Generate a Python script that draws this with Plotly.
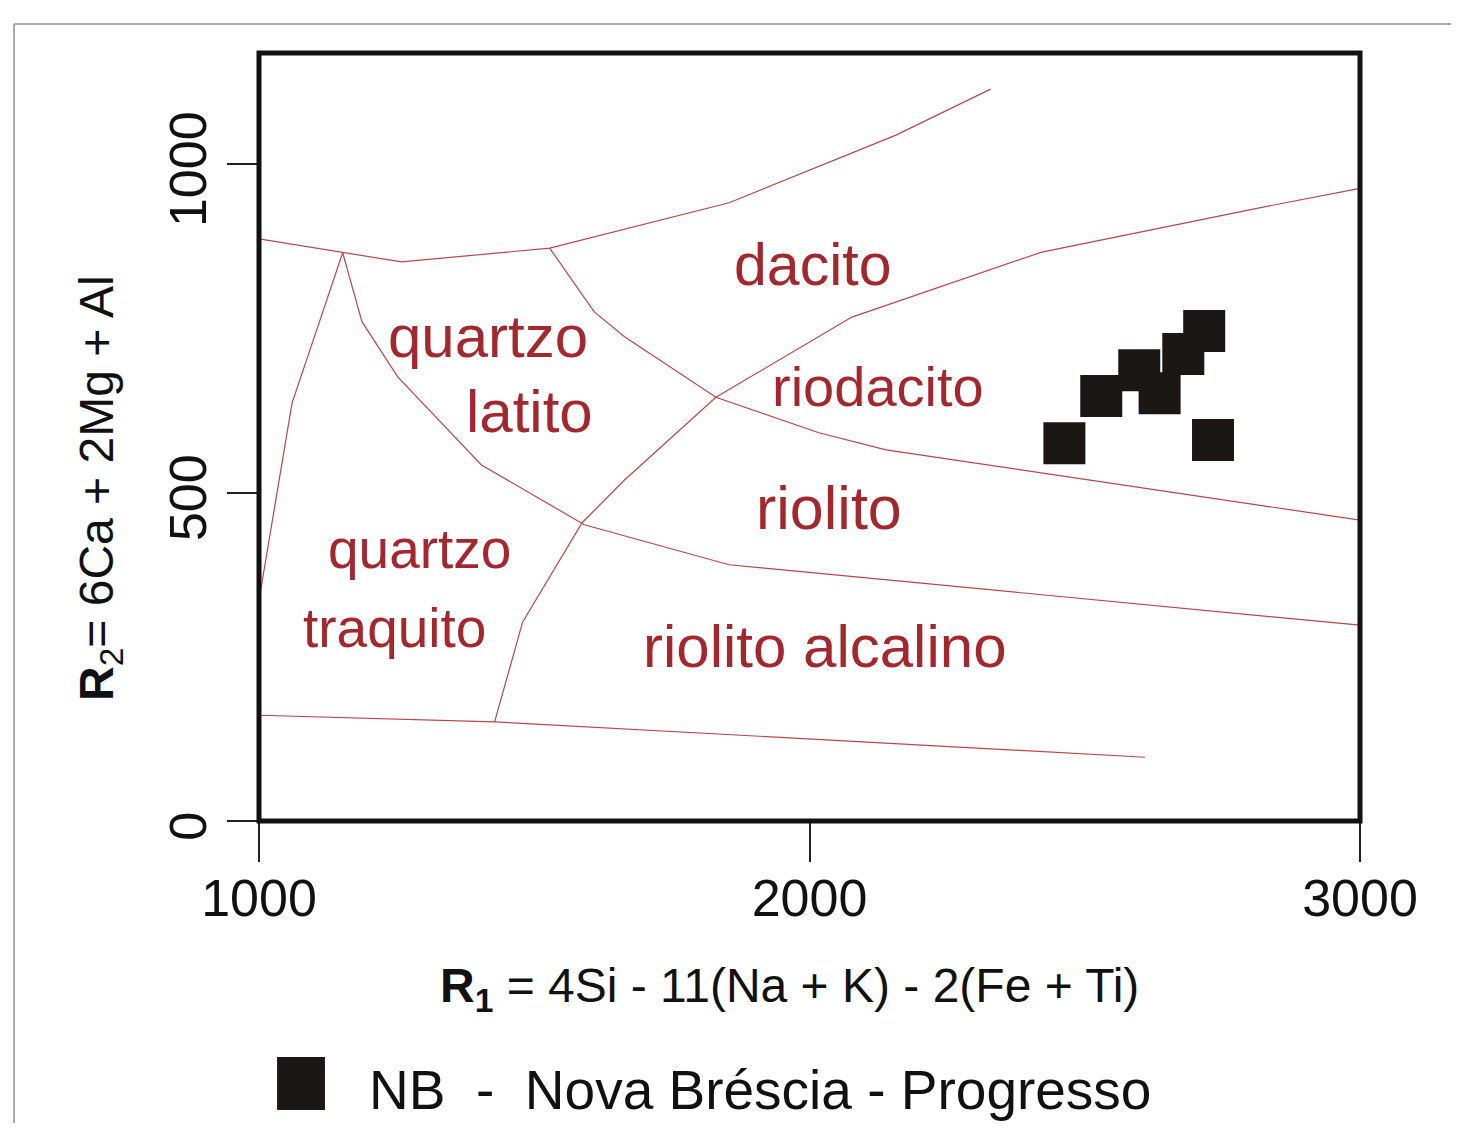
import plotly.graph_objects as go

# ---------------- data ----------------
# Sample points (R1, R2) - NB Nova Bréscia - Progresso
nb_r1 = [2463, 2530, 2599, 2636, 2679, 2717, 2733]
nb_r2 = [575, 647, 686, 651, 711, 746, 580]

# Field boundary lines (De La Roche R1-R2 diagram)
top_x = [1000, 1152, 1259, 1528, 1854, 2157, 2329]
top_y = [886, 865, 851, 872, 941, 1044, 1114]
left_x = [1152, 1060, 1000]
left_y = [865, 636, 336]
qlat_x = [1152, 1187, 1252, 1404, 1591, 1854, 3000]
qlat_y = [865, 760, 676, 542, 451, 390, 298]
rdac_x = [1528, 1609, 1664, 1830, 2017, 2139, 3000]
rdac_y = [872, 775, 737, 645, 591, 565, 458]
mid_x = [1428, 1479, 1587, 1664, 1830, 2077, 2422, 2815, 3000]
mid_y = [151, 303, 454, 519, 645, 767, 866, 933, 963]
bot_x = [1000, 1428, 2610]
bot_y = [161, 151, 97]

field_names = ["quartzo", "latito", "dacito", "riodacito", "riolito",
               "riolito alcalino", "quartzo", "traquito"]
x_ticks = [1000, 2000, 3000]
y_ticks = [0, 500, 1000]

# ---------------- styling / layout ----------------
LINE_COL = "#b5474a"
TEXT_COL = "#a3282d"
FONT = "Liberation Sans, Arial, sans-serif"

fig = go.Figure()

for xs, ys in [(top_x, top_y), (left_x, left_y), (qlat_x, qlat_y),
               (rdac_x, rdac_y), (mid_x, mid_y), (bot_x, bot_y)]:
    fig.add_trace(go.Scatter(x=xs, y=ys, mode="lines",
                             line=dict(color=LINE_COL, width=1.2),
                             hoverinfo="skip", showlegend=False))

fig.add_trace(go.Scatter(x=nb_r1, y=nb_r2, mode="markers",
                         marker=dict(symbol="square", size=42, color="#1b1715",
                                     line=dict(width=0)),
                         name="NB - Nova Bréscia - Progresso", showlegend=False))

# label placement (data coords) and font sizes
label_pos = [(1416, 738, 60), (1492, 623, 60), (2006, 846, 59), (2124, 662, 56),
             (2035, 476, 61), (2028, 265, 60), (1291, 414, 55), (1247, 294, 55)]
for name, (lx, ly, fs) in zip(field_names, label_pos):
    fig.add_annotation(x=lx, y=ly, xref="x", yref="y", text=name, showarrow=False,
                       xanchor="center", yanchor="middle",
                       font=dict(family=FONT, size=fs, color=TEXT_COL))

# axis titles
fig.add_annotation(x=0.4814, y=-0.219, xref="paper", yref="paper",
                   text="<b>R<sub>1</sub></b> = 4Si - 11(Na + K) - 2(Fe + Ti)",
                   showarrow=False, xanchor="center", yanchor="middle",
                   font=dict(family=FONT, size=48, color="#111111"))
fig.add_annotation(x=-0.1444, y=0.4336, xref="paper", yref="paper",
                   text="<b>R</b><sub>2</sub>= 6Ca + 2Mg + Al", textangle=-90,
                   showarrow=False, xanchor="center", yanchor="middle",
                   font=dict(family=FONT, size=48, color="#111111"))

# legend (manual)
fig.add_shape(type="rect", xref="paper", yref="paper", x0=0.0164, x1=0.0599,
              y0=-0.3763, y1=-0.3073, fillcolor="#1b1715", line=dict(width=0))
fig.add_annotation(x=0.0985, y=-0.3503, xref="paper", yref="paper",
                   text="NB  -  Nova Bréscia - Progresso", showarrow=False,
                   xanchor="left", yanchor="middle",
                   font=dict(family=FONT, size=55, color="#111111"))

# plot frame
fig.add_shape(type="rect", xref="x domain", yref="y domain", x0=0, x1=1, y0=0, y1=1,
              line=dict(color="#111111", width=5), layer="above")
# outer grey border
fig.add_shape(type="line", xref="paper", yref="paper", x0=-0.2225, x1=-0.2225,
              y0=-0.45, y1=1.0378, line=dict(color="#aaaaaa", width=2))
fig.add_shape(type="line", xref="paper", yref="paper", x0=-0.2225, x1=1.1,
              y0=1.0378, y1=1.0378, line=dict(color="#aaaaaa", width=2))

fig.update_xaxes(range=[1000, 3000], tickvals=x_ticks, ticktext=[str(v) for v in x_ticks],
                 ticks="outside", ticklen=40, tickwidth=2, tickcolor="#222222",
                 ticklabelstandoff=-8,
                 showgrid=False, zeroline=False, showline=False,
                 tickfont=dict(family=FONT, size=52, color="#111111"))
fig.update_yaxes(range=[0, 1169], tickvals=y_ticks, ticktext=[str(v) for v in y_ticks],
                 ticks="outside", ticklen=31, tickwidth=2, tickcolor="#222222",
                 tickangle=-90, ticklabelshift=13,
                 showgrid=False, zeroline=False, showline=False,
                 tickfont=dict(family=FONT, size=52, color="#111111"))

fig.update_layout(width=1443, height=1115,
                  margin=dict(l=251, r=91, t=45, b=302, autoexpand=False),
                  paper_bgcolor="white", plot_bgcolor="white", showlegend=False)

fig.write_html("out.html")
